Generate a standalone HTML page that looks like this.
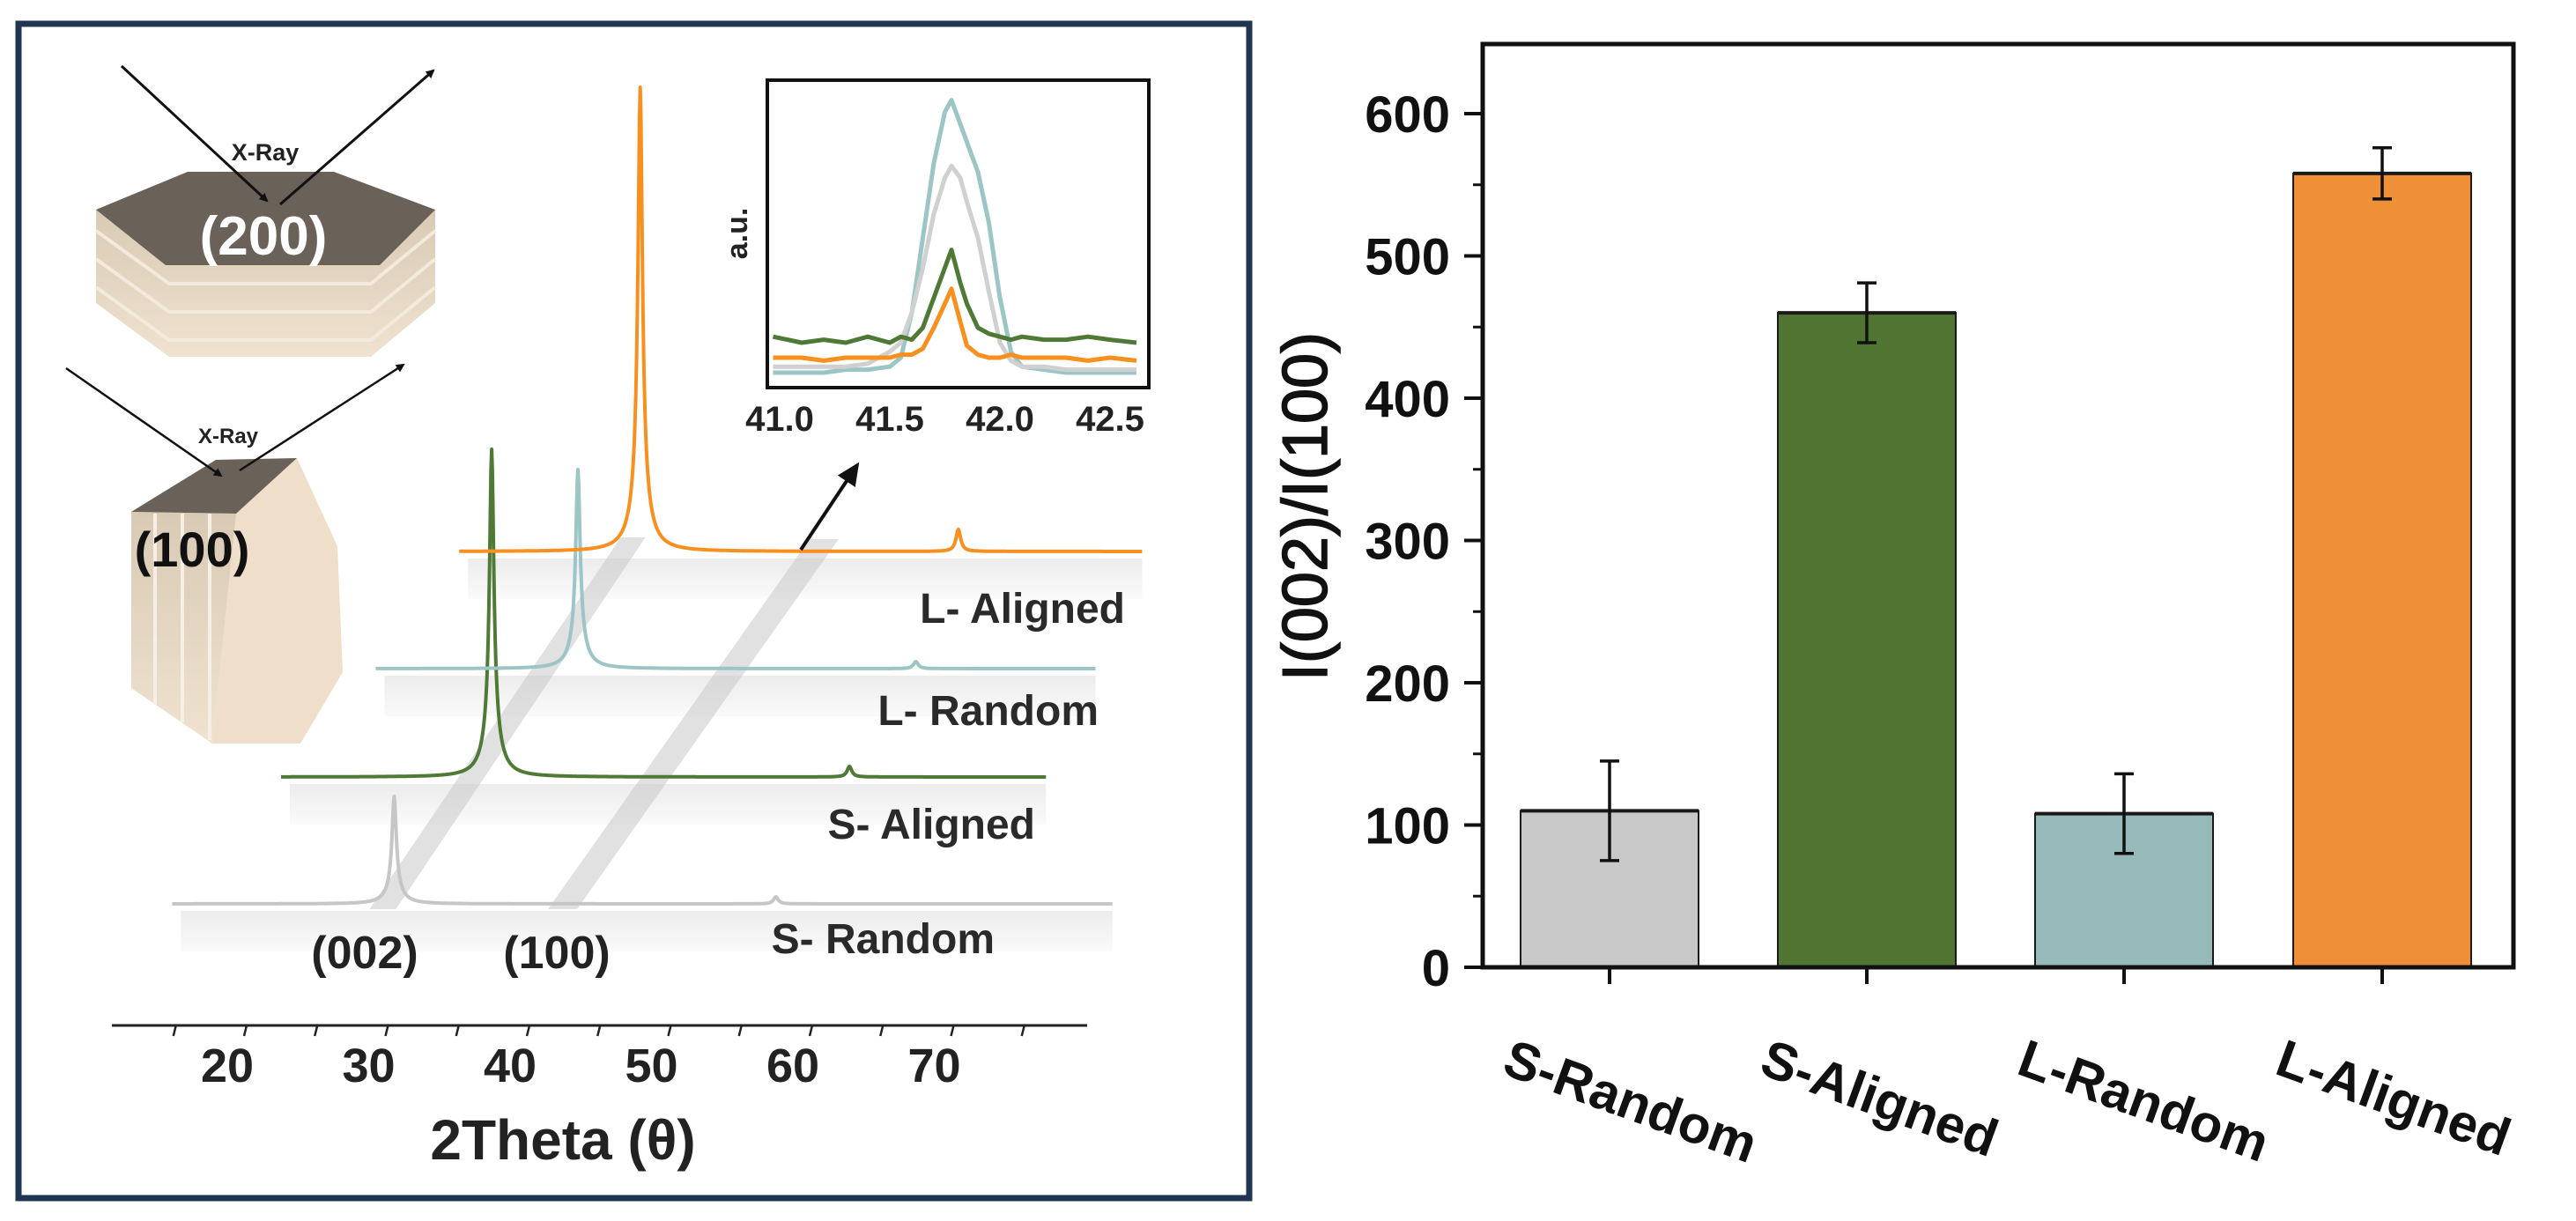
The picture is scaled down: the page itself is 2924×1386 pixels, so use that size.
<!DOCTYPE html>
<html><head><meta charset="utf-8"><style>
html,body{margin:0;padding:0;background:#fff;}
svg{display:block;font-family:"Liberation Sans",Arial,sans-serif;}
</style></head><body>
<svg id="fig" width="2924" height="1386" viewBox="0 0 2924 1386" xmlns="http://www.w3.org/2000/svg">
<defs>
<linearGradient id="beige" x1="0" y1="0" x2="0" y2="1"><stop offset="0" stop-color="#d8cab4"/><stop offset="1" stop-color="#efe2cf"/></linearGradient>
<linearGradient id="shadow" x1="0" y1="0" x2="0" y2="1"><stop offset="0" stop-color="#ececec"/><stop offset="1" stop-color="#fafafa"/></linearGradient>
<marker id="ah" markerWidth="10" markerHeight="10" refX="8" refY="5" orient="auto" markerUnits="userSpaceOnUse"><path d="M0,0 L10,5 L0,10 z" fill="#111"/></marker>
<marker id="ah2" markerWidth="28" markerHeight="28" refX="22" refY="14" orient="auto" markerUnits="userSpaceOnUse"><path d="M0,2 L26,14 L0,26 z" fill="#111"/></marker>
</defs>

<rect x="21" y="27" width="1397" height="1333" fill="none" stroke="#1f3551" stroke-width="7"/>

<g>
<polygon points="109,238 109,344 192,405 421,405 494,344 494,238" fill="url(#beige)"/>
<polyline points="109,262 192,322 421,322 494,262" fill="none" stroke="#f3eadc" stroke-width="4"/>
<polyline points="109,294 192,354 421,354 494,294" fill="none" stroke="#f3eadc" stroke-width="4"/>
<polyline points="109,326 192,386 421,386 494,326" fill="none" stroke="#f3eadc" stroke-width="4"/>
<polygon points="109,238 213,195 379,195 494,238 431,301 188,301" fill="#6a6158"/>
<text x="299" y="289" font-size="62" font-weight="bold" fill="#fff" text-anchor="middle">(200)</text>
</g>
<g>
<line x1="138" y1="75" x2="303" y2="228" stroke="#111" stroke-width="3" marker-end="url(#ah)"/>
<line x1="318" y1="232" x2="492" y2="80" stroke="#111" stroke-width="3" marker-end="url(#ah)"/>
<text x="301" y="182" font-size="27" font-weight="bold" fill="#222" text-anchor="middle">X-Ray</text>
</g>
<g>
<polygon points="268,583 337,520 383,620 389,763 341,844 241,844" fill="#efdfca"/>
<polygon points="149,581 268,583 241,844 149,781" fill="url(#beige)"/>
<line x1="176" y1="583" x2="176" y2="800" stroke="#f7efe3" stroke-width="4"/>
<line x1="207" y1="583" x2="207" y2="820" stroke="#f7efe3" stroke-width="4"/>
<line x1="238" y1="583" x2="238" y2="840" stroke="#f7efe3" stroke-width="4"/>
<polygon points="149,581 245,522 337,520 268,583" fill="#6a6158"/>
<text x="218" y="643" font-size="56" font-weight="bold" fill="#111" text-anchor="middle">(100)</text>
</g>
<g>
<line x1="75" y1="418" x2="251" y2="540" stroke="#111" stroke-width="2.5" marker-end="url(#ah)"/>
<line x1="272" y1="534" x2="458" y2="414" stroke="#111" stroke-width="2.5" marker-end="url(#ah)"/>
<text x="259" y="503" font-size="24" font-weight="bold" fill="#222" text-anchor="middle">X-Ray</text>
</g>

<g id="xrd"></g>
<g id="inset"></g>
<g id="bars"></g>
</svg>
<script>
var NS="http://www.w3.org/2000/svg";
function mk(parent,tag,attrs,text){var e=document.createElementNS(NS,tag);for(var k in attrs)e.setAttribute(k,attrs[k]);if(text!==undefined)e.textContent=text;parent.appendChild(e);return e;}

/* ---------- XRD waterfall data ---------- */
var xrdSeries=["S- Random","S- Aligned","L- Random","L- Aligned"];
var xrdColors=["#c6c6c6","#4f7a35","#9cc5c5","#f7901e"];
var xrdStart=[16.1,23.8,30.5,36.4];
var xrdEnd=[82.6,77.9,81.4,84.7];
var xrdOffset=[74,218,341,474];
var peak002Pos=[31.8,38.7,44.8,49.2];
var peak002H=[122,372,226,527];
var peak100Pos=[58.8,64.0,68.7,71.7];
var peak100H=[8,12,8,25];
var xrdTicks=[20,30,40,50,60,70];
function xrdX(t){return 258+(t-20)*16.05;}
function xrdY(v){return 1100-v;}

var xrd=document.getElementById('xrd');
for(var i=0;i<xrdSeries.length;i++){
  var r=mk(xrd,'rect',{x:xrdX(xrdStart[i])+10,y:xrdY(xrdOffset[i])+8,width:xrdX(xrdEnd[i])-xrdX(xrdStart[i])-10,height:46,fill:"url(#shadow)"});
  
  
}
var b1=mk(xrd,'polygon',{points:(xrdX(peak002Pos[0])-28)+","+(xrdY(xrdOffset[0])+6)+" "+(xrdX(peak002Pos[0])+2)+","+(xrdY(xrdOffset[0])+6)+" "+(xrdX(peak002Pos[3])+6)+","+(xrdY(xrdOffset[3])-16)+" "+(xrdX(peak002Pos[3])-22)+","+(xrdY(xrdOffset[3])-16),fill:"rgba(200,200,200,0.55)"});


var b2=mk(xrd,'polygon',{points:"622,1032 655,1032 952,612 919,612",fill:"rgba(200,200,200,0.55)"});



function lor(d,w){return 1/(1+(d/w)*(d/w));}
for(var i=0;i<xrdSeries.length;i++){
  var d="";
  for(var t=xrdStart[i];t<=xrdEnd[i]+1e-6;t+=0.05){
    var v=xrdOffset[i]+peak002H[i]*(0.85*lor(t-peak002Pos[i],0.18)+0.15*lor(t-peak002Pos[i],0.6))+peak100H[i]*lor(t-peak100Pos[i],0.2);
    d+=(d?"L":"M")+xrdX(t).toFixed(1)+","+xrdY(v).toFixed(1);
  }
  var p=mk(xrd,'path',{d:d,fill:"none",stroke:xrdColors[i],"stroke-width":4,"stroke-linejoin":"round"});
  
  
}
var labelRight=[1129,1175,1247,1277];
var labelY=[1082,952,823,707];
for(var i=0;i<xrdSeries.length;i++){
  var tx=mk(xrd,'text',{x:labelRight[i],y:labelY[i],"font-size":48,"font-weight":"bold",fill:"#2a2a2a","text-anchor":"end"},xrdSeries[i]);
  
  
}
var pl1=mk(xrd,'text',{x:414,y:1099,"font-size":52,"font-weight":"bold",fill:"#222","text-anchor":"middle"},"(002)");


var pl2=mk(xrd,'text',{x:632,y:1099,"font-size":52,"font-weight":"bold",fill:"#222","text-anchor":"middle"},"(100)");


var ax=mk(xrd,'line',{x1:127,y1:1164,x2:1234,y2:1164,stroke:"#222","stroke-width":3});


for(var t=15;t<=75;t+=5){
  var tk=mk(xrd,'line',{x1:xrdX(t)+22,y1:1164,x2:xrdX(t)+19,y2:1176,stroke:"#222","stroke-width":2.5});
  
  
}
for(var i=0;i<xrdTicks.length;i++){
  var tl=mk(xrd,'text',{x:xrdX(xrdTicks[i]),y:1228,"font-size":54,"font-weight":"bold",fill:"#222","text-anchor":"middle"},String(xrdTicks[i]));
  
  
}
var xt=mk(xrd,'text',{x:639,y:1316,"font-size":64,"font-weight":"bold",fill:"#222","text-anchor":"middle"},"2Theta (θ)");


var arr=mk(xrd,'line',{x1:909,y1:624,x2:973,y2:528,stroke:"#111","stroke-width":4,"marker-end":"url(#ah2)"});



/* ---------- Inset data ---------- */
var insetX=[40.97,41.1,41.2,41.3,41.4,41.5,41.55,41.6,41.65,41.7,41.75,41.78,41.82,41.85,41.9,41.95,42.0,42.05,42.1,42.2,42.3,42.4,42.5,42.62];
var insetGray  =[7,7,7,7,8,12,15,25,40,58,70,74,70,62,50,32,15,9,7,7,6,6,6,6];
var insetTeal  =[5,5,5,6,6,7,10,25,50,75,92,96,88,82,72,55,30,12,7,6,5,5,5,5];
var insetGreen =[17,15,16,15,17,15,17,16,20,30,40,46,35,28,20,18,17,16,17,16,16,17,16,15];
var insetOrange=[10,10,9,10,10,10,11,11,13,20,28,33,22,14,11,10,10,11,10,10,10,9,10,9];
var insetTicks=[41.0,41.5,42.0,42.5];
function inX(v){return 885+(v-41)*250;}
function inY(v){return 440-v*3.4;}
var inset=document.getElementById('inset');
var ib=mk(inset,'rect',{x:871,y:91,width:433,height:349,fill:"#fff",stroke:"#111","stroke-width":4});


var inSeries=[[insetTeal,"#9cc5c5","inset-l-random"],[insetGray,"#d0d0d0","inset-s-random"],[insetOrange,"#f7901e","inset-l-aligned"],[insetGreen,"#4f7a35","inset-s-aligned"]];
for(var s=0;s<inSeries.length;s++){
  var d="";
  for(var j=0;j<insetX.length;j++){d+=(j?"L":"M")+inX(insetX[j]).toFixed(1)+","+inY(inSeries[s][0][j]).toFixed(1);}
  var ip=mk(inset,'path',{d:d,fill:"none",stroke:inSeries[s][1],"stroke-width":5,"stroke-linejoin":"round"});
  
  
}
for(var j=0;j<insetTicks.length;j++){
  var it=mk(inset,'text',{x:inX(insetTicks[j]),y:489,"font-size":40,"font-weight":"bold",fill:"#222","text-anchor":"middle"},insetTicks[j].toFixed(1));
  
  
}
var au=mk(inset,'text',{x:0,y:0,"font-size":34,"font-weight":"bold",fill:"#222","text-anchor":"middle",transform:"translate(848,265) rotate(-90)"},"a.u.");



/* ---------- Bar chart data ---------- */
var barCats=["S-Random","S-Aligned","L-Random","L-Aligned"];
var barVals=[110,460,108,558];
var barErrs=[35,21,28,18];
var barColors=["#c8c8c8","#507432","#96b9b9","#ef9038"];
var yTicks=[0,100,200,300,400,500,600];
var catCenters=[1827,2119,2411,2704];
function bY(v){return 1098-v*1.615;}
var bars=document.getElementById('bars');
for(var i=0;i<barCats.length;i++){
  var cx=catCenters[i],w=202;
  var r=mk(bars,'rect',{x:cx-w/2,y:bY(barVals[i]),width:w,height:bY(0)-bY(barVals[i]),fill:barColors[i],stroke:"#1a1a1a","stroke-width":2});
  
  
  var tp=mk(bars,'line',{x1:cx-w/2,y1:bY(barVals[i]),x2:cx+w/2,y2:bY(barVals[i]),stroke:"#1a1a1a","stroke-width":4});
  
  
  var hi=bY(barVals[i]+barErrs[i]),lo=bY(barVals[i]-barErrs[i]);
  var e=mk(bars,'path',{d:"M"+cx+","+hi+"V"+lo+"M"+(cx-11)+","+hi+"H"+(cx+11)+"M"+(cx-11)+","+lo+"H"+(cx+11),stroke:"#111","stroke-width":3.5,fill:"none"});
  
  
  var tk=mk(bars,'line',{x1:cx,y1:1098,x2:cx,y2:1117,stroke:"#111","stroke-width":4});
  
  
  var lb=mk(bars,'text',{x:0,y:0,"font-size":60,"font-weight":"bold",fill:"#111",transform:"translate("+(cx-124)+",1218) rotate(20)"},barCats[i]);
  
  
}
var frame=mk(bars,'rect',{x:1683,y:50,width:1170,height:1048,fill:"none",stroke:"#111","stroke-width":5});


for(var i=0;i<yTicks.length;i++){
  var y=bY(yTicks[i]);
  var t=mk(bars,'line',{x1:1662,y1:y,x2:1683,y2:y,stroke:"#111","stroke-width":4});
  
  
  var l=mk(bars,'text',{x:1646,y:y+21,"font-size":58,"font-weight":"bold",fill:"#111","text-anchor":"end"},String(yTicks[i]));
  
  
  if(i<yTicks.length-1){
    var ym=bY((yTicks[i]+yTicks[i+1])/2);
    var m=mk(bars,'line',{x1:1672,y1:ym,x2:1683,y2:ym,stroke:"#111","stroke-width":3});
    
    
  }
}
var yt=mk(bars,'text',{x:0,y:0,"font-size":72,fill:"#111","text-anchor":"middle","stroke":"#111","stroke-width":1.5,transform:"translate(1506,575) rotate(-90)"},"I(002)/I(100)");


</script>
</body></html>
